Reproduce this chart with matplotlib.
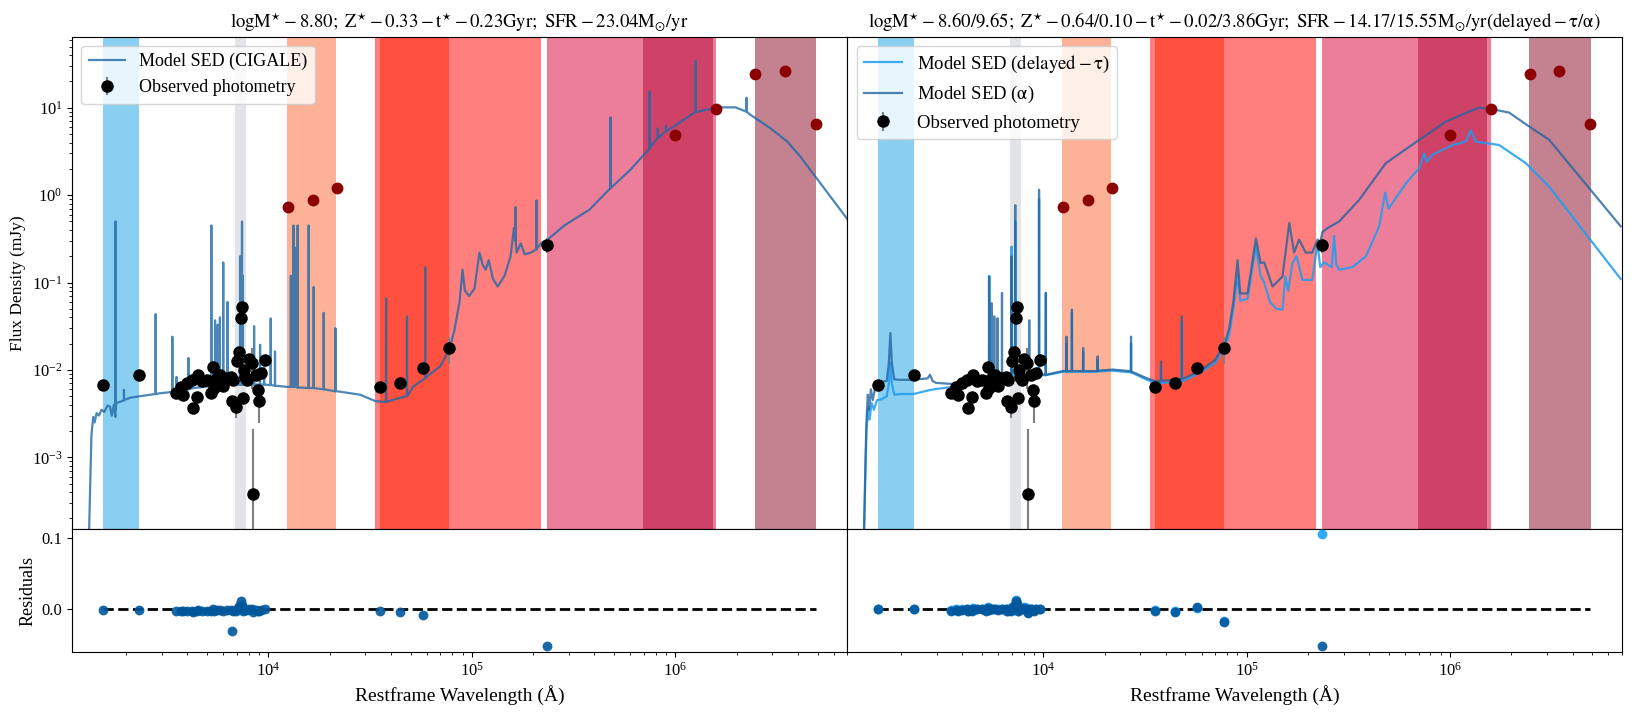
import numpy as np
import matplotlib
matplotlib.use("Agg")
import matplotlib.pyplot as plt

plt.rcParams['font.family'] = ['Liberation Serif', 'DejaVu Serif']
plt.rcParams['mathtext.fontset'] = 'stix'

# ---------------- observed photometry (black, fitted) ----------------
obs_wl = [1532, 2312, 3516, 3707, 3820, 3967, 4229, 4246, 4442, 4527,
          4701, 4976, 5206, 5365, 5426, 5572, 5786, 6007, 6241, 6530,
          6604, 6730, 6936, 7042, 7204, 7341, 7396, 7480, 7623, 7681,
          7886, 8007, 8283, 8377, 8700, 8933, 9034, 9241, 9634,
          35400, 44500, 57300, 77400, 234000]
obs_flux = [6.7e-3, 8.7e-3, 5.5e-3, 6.4e-3, 5.2e-3, 7.1e-3, 7.7e-3, 3.7e-3, 4.9e-3, 8.7e-3,
            7.4e-3, 7.7e-3, 5.4e-3, 0.0108, 6.2e-3, 8.1e-3, 8.8e-3, 6.5e-3, 8.1e-3, 8.4e-3,
            4.45e-3, 7.7e-3, 3.8e-3, 0.0125, 0.0159, 0.0392, 0.0524, 4.8e-3, 0.0100, 8.4e-3,
            7.7e-3, 0.0133, 0.0120, 3.85e-4, 8.8e-3, 5.9e-3, 4.45e-3, 9.2e-3, 0.0131,
            6.4e-3, 7.1e-3, 0.0105, 0.0178, 0.27]
obs_err = [3e-4, 4e-4, 3e-4, 3e-4, 3e-4, 3e-4, 3e-4, 5e-4, 3e-4, 3e-4,
           3e-4, 3e-4, 3e-4, 4e-4, 3e-4, 3e-4, 3e-4, 3e-4, 3e-4, 3e-4,
           4e-4, 3e-4, 1e-3, 5e-4, 6e-4, 1e-3, 1.5e-3, 4e-4, 4e-4, 3e-4,
           3e-4, 5e-4, 6e-3, 1.7e-3, 3e-4, 3e-4, 2e-3, 3e-4, 5e-4,
           3e-4, 3e-4, 5e-4, 6e-3, 0.05]

# residuals
res_cigale = [-0.001, -0.001, -0.002, -0.002, -0.003, -0.002, -0.002, -0.004, -0.003, -0.001,
              -0.002, -0.002, -0.003, 0.000, -0.002, -0.001, -0.001, -0.002, -0.001, -0.001,
              -0.031, -0.002, -0.003, 0.001, 0.004, 0.012, 0.006, -0.003, 0.000, -0.001,
              -0.001, 0.001, 0.000, -0.004, -0.001, -0.002, -0.002, -0.001, 0.000,
              -0.002, -0.004, -0.0085, np.nan, -0.052]
res_alpha = [0.000, 0.000, -0.002, -0.001, -0.002, -0.001, 0.000, -0.003, -0.002, 0.001,
             0.000, 0.001, -0.002, 0.002, -0.001, 0.001, 0.000, -0.001, 0.000, 0.000,
             -0.003, -0.001, -0.002, 0.002, 0.004, 0.012, 0.007, -0.003, 0.001, 0.000,
             0.000, 0.002, 0.001, -0.005, 0.000, -0.001, -0.002, 0.000, 0.000,
             -0.002, -0.004, 0.003, -0.018, -0.052]
res_delayed = [0.001, 0.001, -0.001, 0.000, -0.001, 0.000, 0.001, -0.002, -0.001, 0.002,
               0.001, 0.001, -0.001, 0.003, 0.000, 0.001, 0.001, 0.000, 0.001, 0.000,
               -0.002, 0.000, -0.001, 0.003, 0.005, 0.013, 0.008, -0.002, 0.002, 0.001,
               0.000, 0.003, 0.002, -0.004, 0.001, 0.000, -0.001, 0.001, 0.001,
               -0.001, -0.003, 0.002, -0.016, 0.106]

# excluded photometry (dark red)
excl_wl = [12440, 16500, 21700, 1.0e6, 1.59e6, 2.46e6, 3.45e6, 4.89e6]
excl_flux = [0.73, 0.88, 1.2, 4.84, 9.6, 24.1, 26.1, 6.5]

# ---------------- filter bands ----------------
band_lo = [1538, 6855, 12360, 33500, 35400, 235000, 697000, 2.45e6]
band_hi = [2312, 7762, 21540, 219400, 77300, 1.592e6, 1.524e6, 4.94e6]
band_colors = ['#89CFF1', '#E3E4E8', '#FDB197', '#FF7F7F', '#FF5040',
               '#EC7E9A', '#CD4266', '#C48291']

# ---------------- CIGALE model (left) ----------------
cig_wl = [1310, 1335, 1350, 1378, 1400, 1431, 1470, 1515, 1560, 1620,
          1665, 1700, 1740, 1770, 1790, 1866, 1950, 2090, 2340, 2934,
          3540, 4278, 5167, 6241, 9104, 12300, 16660, 21700, 28250, 33500,
          37500, 44500, 51700, 60100, 69900, 77400, 82000, 87000, 90000, 92500,
          97000, 103000, 109000, 113000, 117000, 121000, 127000, 134000, 145000, 155000,
          161000, 166000, 174000, 182000, 195000, 210000, 222000, 236000, 285000, 378000,
          480000, 600000, 755000, 980000, 1280000, 1610000, 1980000, 2340000, 2940000, 3550000,
          4120000, 7100000]
cig_flux = [1.0e-4, 6e-4, 1.8e-3, 2.9e-3, 2.5e-3, 3.2e-3, 3.0e-3, 3.5e-3, 3.3e-3, 3.9e-3,
            3.8e-3, 3.0e-3, 4.0e-3, 2.9e-3, 4.2e-3, 4.3e-3, 4.5e-3, 4.8e-3, 5.0e-3, 5.4e-3,
            5.7e-3, 6.2e-3, 6.5e-3, 6.8e-3, 6.8e-3, 6.4e-3, 6.2e-3, 5.7e-3, 5.2e-3, 4.4e-3,
            4.3e-3, 4.8e-3, 6.5e-3, 8.4e-3, 0.011, 0.017, 0.028, 0.06, 0.14, 0.08,
            0.07, 0.085, 0.22, 0.16, 0.14, 0.18, 0.11, 0.09, 0.12, 0.2,
            0.42, 0.22, 0.28, 0.21, 0.22, 0.25, 0.29, 0.31, 0.45, 0.68,
            1.2, 1.94, 3.58, 6.06, 9.0, 10.1, 10.1, 8.3, 5.8, 4.1,
            2.75, 0.51]
cig_line_wl = [1775, 1951, 2793, 3373, 3540, 4045, 5245, 5470, 5640, 5780,
               6000, 6300, 7260, 7420, 7480, 8508, 9104, 9530, 10270, 10780,
               12900, 13280, 13600, 13930, 15780, 16700, 18710, 21350, 37900, 48000,
               59000, 164000, 208000, 480000, 747000, 820000, 900000, 1260000, 2240000]
cig_line_base = [3.5e-3, 4.5e-3, 5.3e-3, 5.6e-3, 5.7e-3, 6.0e-3, 6.5e-3, 6.6e-3, 6.6e-3, 6.6e-3,
                 6.7e-3, 6.8e-3, 6.8e-3, 6.8e-3, 6.8e-3, 6.8e-3, 6.8e-3, 6.8e-3, 6.7e-3, 6.6e-3,
                 6.4e-3, 6.4e-3, 6.4e-3, 6.3e-3, 6.2e-3, 6.2e-3, 6.0e-3, 5.7e-3, 4.3e-3, 5.0e-3,
                 8.0e-3, 0.3, 0.24, 1.2, 3.4, 4.5, 5.4, 9.0, 9.0]
cig_line_peak = [0.5, 5.9e-3, 0.0435, 0.024, 8.3e-3, 0.0137, 0.45, 0.037, 0.033, 0.040,
                 0.17, 0.06, 0.2, 0.5, 0.12, 0.0317, 0.0194, 0.0125, 0.0388, 0.0163,
                 0.12, 0.45, 0.25, 0.45, 0.45, 0.089, 0.045, 0.03, 0.066, 0.041,
                 0.15, 0.73, 0.87, 7.8, 15.2, 5.8, 6.2, 34.4, 13.0]

# ---------------- alpha model (right, dark) ----------------
alpha_wl = [1310, 1334, 1350, 1371, 1390, 1420, 1450, 1507, 1600, 1700,
            1740, 1771, 1800, 1850, 1960, 2280, 2700, 2773, 2850, 2968,
            3583, 4850, 7070, 10300, 12440, 18150, 21900, 26500, 32000, 35800,
            44900, 52000, 60000, 70000, 78000, 82000, 86000, 90200, 93000, 101000,
            111000, 117000, 122000, 134000, 150000, 162000, 171000, 181000, 195000, 210000,
            223000, 229000, 236000, 250000, 285000, 357000, 483000, 704000, 953000, 1290000,
            1400000, 1620000, 1950000, 2450000, 3070000, 6900000]
alpha_flux = [1e-4, 8e-4, 2.5e-3, 5.2e-3, 3.5e-3, 6.0e-3, 4.5e-3, 7.1e-3, 7.3e-3, 7.5e-3,
              0.012, 0.0264, 0.012, 7.8e-3, 7.7e-3, 7.7e-3, 8.0e-3, 8.8e-3, 7.5e-3, 7.1e-3,
              6.9e-3, 8.4e-3, 9.2e-3, 8.8e-3, 9.7e-3, 9.7e-3, 0.0101, 9.7e-3, 8.1e-3, 7.4e-3,
              7.7e-3, 8.5e-3, 0.010, 0.013, 0.020, 0.030, 0.06, 0.18, 0.075, 0.075,
              0.32, 0.167, 0.17, 0.09, 0.117, 0.48, 0.22, 0.31, 0.22, 0.22,
              0.31, 0.28, 0.38, 0.42, 0.50, 0.88, 2.32, 4.28, 6.92, 9.4,
              10.0, 9.6, 8.8, 6.1, 4.3, 0.44]
alpha_line_wl = [5410, 5575, 5740, 5960, 6265, 6985, 7280, 8530, 9530, 10300,
                 13000, 13830, 15700, 18500, 27000, 37900, 48000]
alpha_line_base = [8.6e-3, 8.7e-3, 8.7e-3, 8.8e-3, 8.9e-3, 9.1e-3, 9.1e-3, 9.0e-3, 8.9e-3, 8.8e-3,
                   9.7e-3, 9.7e-3, 9.7e-3, 9.8e-3, 9.6e-3, 7.5e-3, 7.9e-3]
alpha_line_peak = [0.117, 0.058, 0.041, 0.039, 0.076, 0.198, 0.77, 0.037, 1.15, 0.076,
                   0.024, 0.049, 0.0178, 0.0143, 0.024, 0.0125, 0.041]

# ---------------- delayed-tau model (right, light) ----------------
delayed_wl = [1310, 1334, 1350, 1380, 1400, 1430, 1470, 1520, 1600, 1700,
              1740, 1771, 1800, 1850, 2000, 2300, 2700, 2900, 3583, 4850,
              7070, 10300, 12440, 18150, 21900, 26500, 32000, 35800, 44900, 52000,
              60000, 70000, 78000, 82000, 86000, 90200, 93000, 101000, 111000, 117000,
              122000, 130000, 140000, 150000, 155000, 160000, 168000, 176000, 188000, 210000,
              223000, 230000, 240000, 262000, 269000, 276000, 285000, 331000, 386000, 448000,
              480000, 498000, 607000, 705000, 745000, 770000, 818000, 1030000, 1190000, 1265000,
              1340000, 1740000, 2360000, 3070000, 6900000]
delayed_flux = [1e-4, 6e-4, 2e-3, 3.8e-3, 2.7e-3, 4.2e-3, 3.5e-3, 4.5e-3, 4.6e-3, 5.0e-3,
                7e-3, 0.012, 7e-3, 5.2e-3, 5.3e-3, 5.3e-3, 5.8e-3, 6.0e-3, 6.4e-3, 7.5e-3,
                8.6e-3, 8.7e-3, 9.5e-3, 9.5e-3, 9.8e-3, 9.4e-3, 7.8e-3, 7.0e-3, 7.2e-3, 8.0e-3,
                9.5e-3, 0.012, 0.018, 0.025, 0.05, 0.12, 0.062, 0.065, 0.26, 0.12,
                0.10, 0.06, 0.05, 0.049, 0.117, 0.08, 0.167, 0.2, 0.107, 0.107,
                0.28, 0.15, 0.17, 0.15, 0.34, 0.16, 0.14, 0.15, 0.2, 0.44,
                1.07, 0.7, 1.37, 2.03, 3.0, 2.4, 2.88, 3.75, 4.08, 5.5,
                4.08, 3.75, 2.32, 1.25, 0.11]
delayed_line_wl = [5428, 6987, 7280, 9530, 10300, 13000, 13830, 15700, 18500, 27000,
                   37900, 48000]
delayed_line_base = [7.9e-3, 8.6e-3, 8.6e-3, 8.7e-3, 8.7e-3, 9.5e-3, 9.5e-3, 9.5e-3, 9.6e-3, 9.4e-3,
                     7.1e-3, 7.4e-3]
delayed_line_peak = [0.119, 0.258, 0.5, 0.9, 0.076, 0.02, 0.045, 0.016, 0.013, 0.02,
                     0.011, 0.035]

flux_ticks = [1e-3, 1e-2, 1e-1, 1e0, 1e1]
res_ticks = [0.0, 0.1]
res_tick_labels = ['0.0', '0.1']

# ---------------- titles ----------------
title_left = r'$\mathrm{logM^{\star}-8.80;\ Z^{\star}-0.33-t^{\star}-0.23Gyr;\ SFR-23.04M_{\odot}/yr}$'
title_right = (r'$\mathrm{logM^{\star}-8.60/9.65;\ Z^{\star}-0.64/0.10-t^{\star}-0.02/3.86Gyr;'
               r'\ SFR-14.17/15.55M_{\odot}/yr(delayed-\tau/\alpha)}$')

C_CIG = '#1f69a8'
C_ALPHA = '#23649e'
C_DELAY = '#1e9cf0'
C_RES = '#00579B'
C_RES_D = '#1AA1FF'
XLIM = (1087, 7.0e6)
YLIM = (1.5e-4, 65)
RLIM = (-0.0606, 0.1127)


def build_sed(cwl, cfl, lwl, lbase, lpeak, eps=0.0015):
    wl = list(cwl)
    fl = list(cfl)
    for w, b, p in zip(lwl, lbase, lpeak):
        wl += [w * (1 - eps), w, w * (1 + eps)]
        fl += [b, p, b]
    order = np.argsort(wl)
    return np.array(wl)[order], np.array(fl)[order]


fig = plt.figure(figsize=(16.5, 7.14), dpi=100)
L, M, R = 0.0438, 0.5135, 0.9830
TOP, SPLIT, BOT = 0.9486, 0.2587, 0.0864
ax1 = fig.add_axes([L, SPLIT, M - L, TOP - SPLIT])
ax2 = fig.add_axes([M, SPLIT, R - M, TOP - SPLIT])
ax3 = fig.add_axes([L, BOT, M - L, SPLIT - BOT])
ax4 = fig.add_axes([M, BOT, R - M, SPLIT - BOT])

for ax in (ax1, ax2):
    for lo, hi, c in zip(band_lo, band_hi, band_colors):
        ax.axvspan(lo, hi, color=c, lw=0, zorder=0)
    ax.set_xscale('log')
    ax.set_yscale('log')
    ax.set_xlim(*XLIM)
    ax.set_ylim(*YLIM)
    ax.set_yticks(flux_ticks)
    ax.tick_params(axis='x', which='both', bottom=False, labelbottom=False)
    ax.tick_params(axis='y', labelsize=12)

# left model
wl, fl = build_sed(cig_wl, cig_flux, cig_line_wl, cig_line_base, cig_line_peak)
ax1.plot(wl, fl, color=C_CIG, lw=1.6, alpha=0.8, zorder=2, label='Model SED (CIGALE)')

# right models
wl, fl = build_sed(delayed_wl, delayed_flux, delayed_line_wl, delayed_line_base, delayed_line_peak)
ax2.plot(wl, fl, color=C_DELAY, lw=1.6, alpha=0.85, zorder=2,
         label=r'Model SED ($\mathrm{delayed}-\mathrm{\tau}$)')
wl, fl = build_sed(alpha_wl, alpha_flux, alpha_line_wl, alpha_line_base, alpha_line_peak)
ax2.plot(wl, fl, color=C_ALPHA, lw=1.6, alpha=0.8, zorder=3,
         label=r'Model SED ($\mathrm{\alpha}$)')

for ax in (ax1, ax2):
    ax.errorbar(obs_wl, obs_flux, yerr=obs_err, fmt='o', color='black', ecolor='grey',
                elinewidth=1.5, ms=8, zorder=5, label='Observed photometry')
    ax.plot(excl_wl, excl_flux, 'o', color='#8B0000', ms=7.5, zorder=5)

ax1.set_ylabel('Flux Density (mJy)', fontsize=12.5)
ax1.set_title(title_left, fontsize=13.5)
ax2.set_title(title_right, fontsize=13.5)
ax2.tick_params(axis='y', which='both', left=False, labelleft=False)

ax1.legend(loc='upper left', fontsize=13, framealpha=0.8)
ax2.legend(loc='upper left', fontsize=13.5, framealpha=0.8)

# residuals
all_wl = list(obs_wl) + list(excl_wl)
for ax in (ax3, ax4):
    ax.set_xscale('log')
    ax.set_xlim(*XLIM)
    ax.set_ylim(*RLIM)
    ax.plot([min(all_wl), max(all_wl)], [0, 0], 'k--', lw=2, zorder=1)
    ax.set_xlabel('Restframe Wavelength (Å)', fontsize=14)
    ax.tick_params(axis='x', labelsize=12)

ax3.scatter(obs_wl, res_cigale, s=50, color=C_RES, alpha=0.9, zorder=3, lw=0)
ax4.scatter(obs_wl, res_delayed, s=50, color=C_RES_D, alpha=0.9, zorder=3, lw=0)
ax4.scatter(obs_wl, res_alpha, s=50, color=C_RES, alpha=0.9, zorder=4, lw=0)

ax3.set_yticks(res_ticks)
ax3.set_yticklabels(res_tick_labels)
ax3.tick_params(axis='y', labelsize=12)
ax3.set_ylabel('Residuals', fontsize=13)
ax4.tick_params(axis='y', which='both', left=False, labelleft=False)

fig.savefig('out.png', dpi=100)
